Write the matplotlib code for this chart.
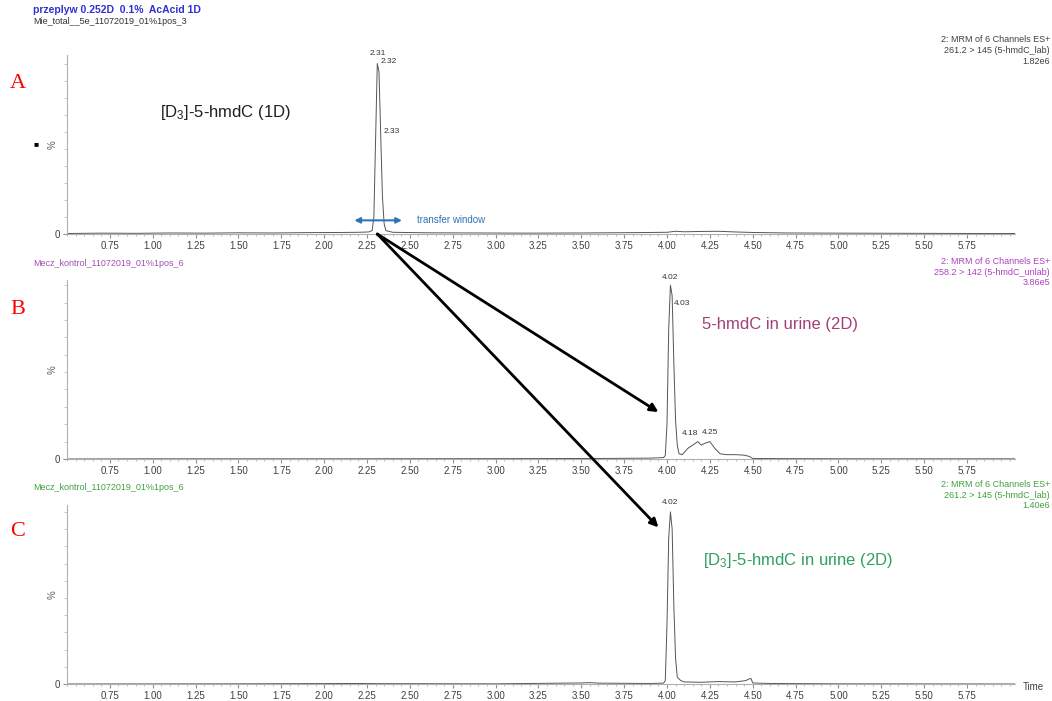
import numpy as np
import matplotlib.pyplot as plt
from matplotlib.patches import ConnectionPatch
from matplotlib.ticker import MultipleLocator, NullFormatter

plt.rcParams['font.family'] = ['Liberation Sans', 'DejaVu Sans']
plt.rcParams['mathtext.default'] = 'regular'

# chromatogram A - 1D, labelled standard
a_time = [0.50, 0.70, 0.90, 1.10, 1.30, 1.50, 1.70, 1.90, 2.10, 2.20, 2.26, 2.28, 2.29,
          2.30, 2.31, 2.32, 2.33, 2.34, 2.35, 2.36, 2.40, 2.60, 2.90, 3.20, 3.50, 3.80,
          4.00, 4.05, 4.10, 4.20, 4.30, 4.40, 4.50, 4.70, 5.00, 5.40, 5.80, 6.03]
a_int = [0.3, 0.5, 0.4, 0.6, 0.5, 0.7, 0.6, 0.8, 0.9, 1.0, 1.2, 2.0, 10,
         55, 100, 95, 58, 22, 6, 2, 1.0, 0.7, 0.6, 0.5, 0.6, 0.8,
         1.0, 1.6, 1.3, 1.5, 1.6, 1.2, 0.9, 0.6, 0.5, 0.4, 0.3, 0.3]
a_peaks = [2.31, 2.32, 2.33]

# chromatogram B - 2D, unlabelled 5-hmdC
b_time = [0.50, 1.00, 2.00, 3.00, 3.60, 3.90, 3.98, 3.99, 4.00, 4.01, 4.02, 4.03, 4.04,
          4.05, 4.06, 4.07, 4.09, 4.12, 4.15, 4.18, 4.20, 4.22, 4.25, 4.28, 4.31, 4.35,
          4.40, 4.45, 4.48, 4.50, 4.70, 5.20, 6.03]
b_int = [0.0, 0.1, 0.1, 0.2, 0.3, 0.5, 0.8, 2, 20, 75, 100, 94, 55,
         22, 8, 3, 2.5, 6, 8, 10, 8, 9, 10, 6, 3, 2.5,
         2.5, 2.2, 1.5, 0.3, 0.2, 0.1, 0.1]
b_peaks = [4.02, 4.03, 4.18, 4.25]

# chromatogram C - 2D, labelled standard
c_time = [0.50, 1.50, 2.20, 2.30, 3.00, 3.50, 3.55, 3.60, 3.90, 3.98, 3.99, 4.00, 4.01,
          4.02, 4.03, 4.04, 4.05, 4.06, 4.08, 4.10, 4.20, 4.30, 4.40, 4.46, 4.48, 4.49,
          4.50, 4.60, 5.00, 6.03]
c_int = [0.0, 0.1, 0.3, 0.2, 0.1, 0.6, 0.8, 0.5, 0.3, 0.5, 2, 35, 85,
         100, 90, 45, 15, 4, 2, 1.2, 1.0, 1.4, 1.2, 2.0, 3.0, 3.2,
         0.6, 0.3, 0.1, 0.0]
c_peaks = [4.02]

x_ticks = [0.75, 1.00, 1.25, 1.50, 1.75, 2.00, 2.25, 2.50, 2.75, 3.00, 3.25, 3.50,
           3.75, 4.00, 4.25, 4.50, 4.75, 5.00, 5.25, 5.50, 5.75]

W, H = 1052, 701
fig = plt.figure(figsize=(W / 100, H / 100), dpi=100)


def px_axes(left, top, right, bottom):
    return fig.add_axes([left / W, 1 - bottom / H, (right - left) / W, (bottom - top) / H])


def style(ax, ytop):
    ax.set_xlim(0.5, 6.03)
    ax.set_ylim(0, ytop)
    for s in ['top', 'right']:
        ax.spines[s].set_visible(False)
    for s in ['left', 'bottom']:
        ax.spines[s].set_color('#b0b0b0')
        ax.spines[s].set_linewidth(0.8)
    ax.set_xticks(x_ticks)
    ax.set_xticklabels(['%.2f' % t for t in x_ticks])
    ax.xaxis.set_minor_locator(MultipleLocator(0.05))
    ax.tick_params(axis='x', which='major', length=3, color='#909090', labelsize=7,
                   labelcolor='#404040', pad=2)
    ax.tick_params(axis='x', which='minor', length=1.5, color='#b0b0b0')
    ax.set_yticks([0])
    ax.set_yticklabels(['0'])
    ax.yaxis.set_minor_locator(MultipleLocator(10))
    ax.yaxis.set_minor_formatter(NullFormatter())
    ax.tick_params(axis='y', which='major', length=3, color='#909090', labelsize=7,
                   labelcolor='#404040', pad=2)
    ax.tick_params(axis='y', which='minor', length=2, color='#c0c0c0')
    ax.set_ylabel('%', fontsize=7, color='#606060', labelpad=-2)


def draw(ax, t, y, peaks, offsets):
    ax.plot(t, y, color='#555555', lw=0.7)
    for p, (dx, dy, ha) in zip(peaks, offsets):
        ax.annotate('%.2f' % p, (p, np.interp(p, t, y)), xytext=(dx, dy),
                    textcoords='offset points', fontsize=6, color='#333333',
                    ha=ha, va='bottom')


axA = px_axes(67, 55, 1015, 234)
style(axA, 105)
draw(axA, a_time, a_int, a_peaks, [(0, 5, 'center'), (1, 5, 'left'), (2, 0, 'left')])

axB = px_axes(67, 280, 1015, 459)
style(axB, 103)
draw(axB, b_time, b_int, b_peaks, [(0, 3, 'center'), (1, -8, 'left'), (0, 3, 'right'),
                                   (0, 4, 'center')])

axC = px_axes(67, 505, 1015, 684)
style(axC, 104)
draw(axC, c_time, c_int, c_peaks, [(0, 4, 'center')])

# sample headers
fig.text(33 / W, 1 - 10 / H, 'przeplyw 0.252D  0.1%  AcAcid 1D', fontsize=7.5,
         color='#3030d0', fontweight='bold', va='center')
fig.text(33 / W, 1 - 22 / H, 'Mie_total__5e_11072019_01%1pos_3', fontsize=6.5,
         color='#303030', va='center')
fig.text(33 / W, 1 - 263 / H, 'Mecz_kontrol_11072019_01%1pos_6', fontsize=6.5,
         color='#a050b0', va='center')
fig.text(33 / W, 1 - 487 / H, 'Mecz_kontrol_11072019_01%1pos_6', fontsize=6.5,
         color='#40a040', va='center')

# channel info, top right of each trace
fig.text(1050 / W, 1 - 35 / H, '2: MRM of 6 Channels ES+\n261.2 > 145 (5-hmdC_lab)\n1.82e6',
         fontsize=6.5, color='#404040', ha='right', va='top', linespacing=1.25)
fig.text(1050 / W, 1 - 257 / H, '2: MRM of 6 Channels ES+\n258.2 > 142 (5-hmdC_unlab)\n3.86e5',
         fontsize=6.5, color='#b040c0', ha='right', va='top', linespacing=1.25)
fig.text(1050 / W, 1 - 480 / H, '2: MRM of 6 Channels ES+\n261.2 > 145 (5-hmdC_lab)\n1.40e6',
         fontsize=6.5, color='#40a040', ha='right', va='top', linespacing=1.25)

# compound names
axA.text(160 / W, 1 - 112 / H, '[D$_3$]-5-hmdC (1D)', transform=fig.transFigure,
         fontsize=12, color='#202020', va='center')
axB.text(702 / W, 1 - 324 / H, '5-hmdC in urine (2D)', transform=fig.transFigure,
         fontsize=12, color='#a0407a', va='center')
axC.text(703 / W, 1 - 560 / H, '[D$_3$]-5-hmdC in urine (2D)', transform=fig.transFigure,
         fontsize=12, color='#30a060', va='center')

# panel letters
for lab, y in zip(['A', 'B', 'C'], [83, 310, 532]):
    fig.text(10 / W, 1 - y / H, lab, fontsize=16, color='red', va='center',
             family='Liberation Serif')

fig.text(36 / W, 1 - 145 / H, '\u25a0', fontsize=6, color='black', ha='center', va='center')
fig.text(1033 / W, 1 - 687 / H, 'Time', fontsize=7, color='#404040', ha='center', va='center')

# transfer window
axA.annotate('', xy=(2.16, 8), xytext=(2.47, 8),
             arrowprops=dict(arrowstyle='<|-|>', color='#2e75b6', lw=1.5,
                             mutation_scale=8))
axA.text(2.54, 8, 'transfer window', fontsize=7, color='#2e75b6', va='center')

# arrows from the 1D cut to the 2D peaks
for ax, xy in [(axB, (3.95, 27)), (axC, (3.95, 91))]:
    con = ConnectionPatch(xyA=(2.31, 0), coordsA=axA.transData, xyB=xy,
                          coordsB=ax.transData, arrowstyle='-|>', color='black',
                          lw=2, mutation_scale=12)
    fig.add_artist(con)

fig.savefig('out.png', dpi=100)
